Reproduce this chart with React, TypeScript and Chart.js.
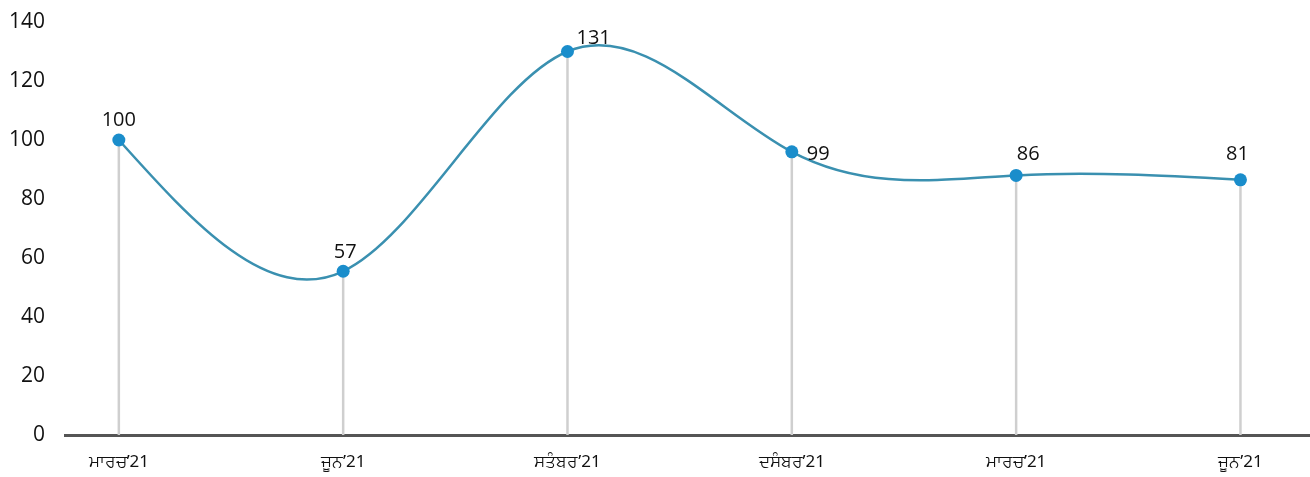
import React, { useEffect, useRef } from "react";
import { Chart, registerables } from "chart.js";

Chart.register(...registerables);

const categories = ["ਮਾਰਚ’21", "ਜੂਨ’21", "ਸਤੰਬਰ’21", "ਦਸੰਬਰ’21", "ਮਾਰਚ’21", "ਜੂਨ’21"];
// plotted heights
const values = [100, 55.5, 130, 96, 88, 86.5];
// value labels printed next to the points
const valueLabels = ["100", "57", "131", "99", "86", "81"];
const yTicks = [0, 20, 40, 60, 80, 100, 120, 140];

// label placement style: [dx, dy, align]
const labelPlacement: [number, number, CanvasTextAlign][] = [
  [0, -14, "center"],
  [2, -13, "center"],
  [9, -8, "left"],
  [15, 8, "left"],
  [12, -15, "center"],
  [-3, -20, "center"],
];

// natural cubic spline through the pixel positions of the points
const splinePlugin = {
  id: "naturalSpline",
  beforeDatasetsDraw(chart: any) {
    const meta = chart.getDatasetMeta(0);
    const pts = meta.data;
    const n = pts.length - 1;
    if (n < 1) return;
    const xs = pts.map((p: any) => p.x);
    const ys = pts.map((p: any) => p.y);
    const h: number[] = [];
    for (let i = 0; i < n; i++) h[i] = xs[i + 1] - xs[i];
    const M = new Array(n + 1).fill(0);
    const cq: number[] = [];
    const dq: number[] = [];
    for (let i = 1; i < n; i++) {
      const a = h[i - 1];
      const b = 2 * (h[i - 1] + h[i]);
      const c = h[i];
      const d = 6 * ((ys[i + 1] - ys[i]) / h[i] - (ys[i] - ys[i - 1]) / h[i - 1]);
      const denom = b - (i > 1 ? a * cq[i - 1] : 0);
      cq[i] = c / denom;
      dq[i] = (d - (i > 1 ? a * dq[i - 1] : 0)) / denom;
    }
    for (let i = n - 1; i >= 1; i--) M[i] = dq[i] - cq[i] * M[i + 1];
    const m: number[] = [];
    for (let i = 0; i < n; i++) m[i] = (ys[i + 1] - ys[i]) / h[i] - (h[i] * (2 * M[i] + M[i + 1])) / 6;
    m[n] = (ys[n] - ys[n - 1]) / h[n - 1] + (h[n - 1] * (M[n - 1] + 2 * M[n])) / 6;
    pts.forEach((p: any, i: number) => {
      if (i > 0) {
        p.cp1x = xs[i] - h[i - 1] / 3;
        p.cp1y = ys[i] - (m[i] * h[i - 1]) / 3;
      } else {
        p.cp1x = xs[i];
        p.cp1y = ys[i];
      }
      if (i < n) {
        p.cp2x = xs[i] + h[i] / 3;
        p.cp2y = ys[i] + (m[i] * h[i]) / 3;
      } else {
        p.cp2x = xs[i];
        p.cp2y = ys[i];
      }
    });
    meta.dataset._pointsUpdated = true;
    meta.dataset._path = undefined;
  },
};

const labelPlugin = {
  id: "dropAndLabels",
  beforeDatasetsDraw(chart: any) {
    const { ctx } = chart;
    const meta = chart.getDatasetMeta(0);
    const yBase = chart.scales.y.getPixelForValue(0);
    ctx.save();
    ctx.strokeStyle = "#cfcfcf";
    ctx.lineWidth = 2.5;
    meta.data.forEach((pt: any) => {
      ctx.beginPath();
      ctx.moveTo(pt.x, pt.y);
      ctx.lineTo(pt.x, yBase);
      ctx.stroke();
    });
    ctx.restore();
  },
  afterDatasetsDraw(chart: any) {
    const { ctx } = chart;
    const meta = chart.getDatasetMeta(0);
    ctx.save();
    ctx.font = "20px 'Open Sans', sans-serif";
    ctx.fillStyle = "#111";
    ctx.textBaseline = "alphabetic";
    meta.data.forEach((pt: any, i: number) => {
      const [dx, dy, align] = labelPlacement[i];
      ctx.textAlign = align;
      ctx.fillText(valueLabels[i], pt.x + dx, pt.y + dy);
    });
    ctx.restore();
  },
};

export default function App() {
  const ref = useRef<HTMLCanvasElement>(null);
  useEffect(() => {
    const chart = new Chart(ref.current!, {
      type: "line",
      data: {
        datasets: [
          {
            data: values.map((v, i) => ({ x: i, y: v })),
            borderColor: "#3a90b0",
            borderWidth: 2.5,
            tension: 0.4,
            pointRadius: 6.5,
            pointBackgroundColor: "#1a8dcb",
            pointBorderColor: "#1a8dcb",
            pointBorderWidth: 0,
            fill: false,
            clip: false as any,
          },
        ],
      },
      plugins: [splinePlugin, labelPlugin],
      options: {
        animation: false,
        responsive: true,
        maintainAspectRatio: false,
        layout: { autoPadding: false, padding: { top: 22, right: 0, bottom: 0, left: 0 } },
        plugins: { legend: { display: false }, tooltip: { enabled: false } },
        scales: {
          x: {
            type: "linear",
            min: -0.24,
            max: 5.31,
            grid: { display: false, drawTicks: false },
            border: { display: true, color: "#555555", width: 3 },
            afterBuildTicks: (scale: any) => {
              scale.ticks = categories.map((_, i) => ({ value: i }));
            },
            afterFit: (scale: any) => {
              scale.height = 42;
              scale.paddingLeft = 0;
              scale.paddingRight = 0;
            },
            ticks: {
              autoSkip: false,
              maxRotation: 0,
              padding: 17,
              color: "#111",
              font: { family: "'Noto Sans', 'Open Sans', sans-serif", size: 17 },
              callback: (v: any) => categories[v as number] ?? "",
            },
          },
          y: {
            min: 0,
            max: 140,
            grid: { display: false, drawTicks: false },
            border: { display: false },
            afterBuildTicks: (scale: any) => {
              scale.ticks = yTicks.map((v) => ({ value: v }));
            },
            afterFit: (scale: any) => {
              scale.width = 65;
              scale.paddingTop = 0;
              scale.paddingBottom = 0;
            },
            ticks: {
              padding: 20,
              color: "#111",
              font: { family: "'Open Sans', sans-serif", size: 21 },
            },
          },
        },
      },
    });
    return () => chart.destroy();
  }, []);
  return (
    <div style={{ position: "fixed", left: 0, top: 0, width: 1310, height: 477, background: "#fff" }}>
      <canvas ref={ref} />
    </div>
  );
}
